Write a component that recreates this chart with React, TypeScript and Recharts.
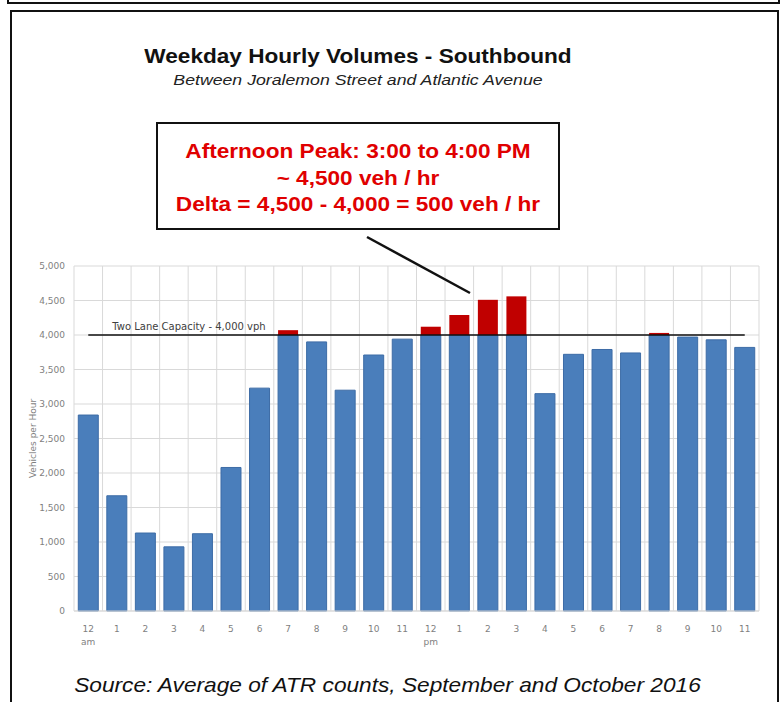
import React from "react";
import {
  BarChart, Bar, XAxis, YAxis, CartesianGrid, ReferenceLine,
} from "recharts";

const HOURS = [
  "12a", "1a", "2a", "3a", "4a", "5a", "6a", "7a", "8a", "9a", "10a", "11a",
  "12p", "1p", "2p", "3p", "4p", "5p", "6p", "7p", "8p", "9p", "10p", "11p",
];
const HOUR_LABELS = [
  "12", "1", "2", "3", "4", "5", "6", "7", "8", "9", "10", "11",
  "12", "1", "2", "3", "4", "5", "6", "7", "8", "9", "10", "11",
];
const PERIOD_LABELS: Record<string, string> = { "12a": "am", "12p": "pm" };

// vehicles per hour
const VOLUMES = [
  2840, 1670, 1130, 930, 1120, 2080, 3230, 4070, 3900, 3200, 3710, 3940,
  4120, 4290, 4510, 4560, 3150, 3720, 3790, 3740, 4030, 3970, 3930, 3820,
];
const CAPACITY = 4000;
const Y_TICKS = [0, 500, 1000, 1500, 2000, 2500, 3000, 3500, 4000, 4500, 5000];

const data = HOURS.map((hour, i) => ({
  hour,
  base: Math.min(VOLUMES[i], CAPACITY),
  over: Math.max(VOLUMES[i] - CAPACITY, 0),
}));

const AXIS_FONT = "'DejaVu Sans', sans-serif";
const ARIAL = "'Liberation Sans', Arial, sans-serif";

// the scanned page is a little stretched sideways
const wide = (s: number) => ({ transform: `scaleX(${s})`, transformOrigin: "center" });

function HourTick({ x, y, payload }: any) {
  const i = HOURS.indexOf(payload.value);
  const period = PERIOD_LABELS[payload.value];
  return (
    <g>
      <text x={x} y={y + 13} textAnchor="middle" fill="#7f7f7f" fontSize={9} fontFamily={AXIS_FONT}>
        {HOUR_LABELS[i]}
      </text>
      {period && (
        <text x={x} y={y + 26} textAnchor="middle" fill="#7f7f7f" fontSize={9} fontFamily={AXIS_FONT}>
          {period}
        </text>
      )}
    </g>
  );
}

export default function App() {
  return (
    <div style={{ position: "absolute", left: 0, top: 0, width: 783, height: 702, overflow: "hidden", background: "#fff" }}>
      {/* frames */}
      <div style={{ position: "absolute", left: 7, top: -20, width: 769, height: 20, border: "2px solid #111" }} />
      <div style={{ position: "absolute", left: 10, top: 10, width: 765, height: 720, border: "2px solid #111" }} />

      <div style={{ position: "absolute", left: 0, top: 45, width: 716, textAlign: "center", fontFamily: ARIAL, fontWeight: "bold", fontSize: 20, color: "#111", ...wide(1.13) }}>
        Weekday Hourly Volumes - Southbound
      </div>
      <div style={{ position: "absolute", left: 0, top: 71, width: 716, textAlign: "center", fontFamily: ARIAL, fontStyle: "italic", fontSize: 15, color: "#222", ...wide(1.18) }}>
        Between Joralemon Street and Atlantic Avenue
      </div>

      <div style={{
        position: "absolute", left: 156, top: 122, width: 400, height: 104,
        border: "2px solid #111", background: "#fff", boxSizing: "content-box",
      }} />
      <div style={{
        position: "absolute", left: 156, top: 138, width: 404, textAlign: "center",
        fontFamily: ARIAL, fontWeight: "bold", fontSize: 20, color: "#e00000", lineHeight: "26.5px",
        ...wide(1.13),
      }}>
        <div>Afternoon Peak: 3:00 to 4:00 PM</div>
        <div>~ 4,500 veh / hr</div>
        <div>Delta = 4,500 - 4,000 = 500 veh / hr</div>
      </div>

      <div style={{ position: "absolute", left: 0, top: 250 }}>
        <BarChart
          width={783}
          height={420}
          data={data}
          margin={{ top: 16, right: 24, bottom: 19, left: 20 }}
          barCategoryGap="15%"
        >
          <CartesianGrid
            stroke="#d9d9d9"
            verticalCoordinatesGenerator={({ offset }: any) =>
              HOURS.map((_, i) => offset.left + (i * offset.width) / HOURS.length).concat(offset.left + offset.width)
            }
          />
          <XAxis
            dataKey="hour"
            tick={<HourTick />}
            tickLine={false}
            axisLine={{ stroke: "#d9d9d9" }}
            height={40}
            interval={0}
          />
          <YAxis
            width={54}
            domain={[0, 5000]}
            ticks={Y_TICKS}
            tickFormatter={(v: number) => v.toLocaleString("en-US")}
            tick={{ fontSize: 9, fill: "#7f7f7f", fontFamily: AXIS_FONT }}
            tickLine={false}
            axisLine={false}
            tickSize={6}
            tickMargin={3}
            label={{
              content: ({ viewBox }: any) => {
                const cx = viewBox.x + 13;
                const cy = viewBox.y + viewBox.height / 2;
                return (
                  <text x={cx} y={cy} textAnchor="middle" dominantBaseline="central" transform={`rotate(-90, ${cx}, ${cy})`}
                    fill="#7f7f7f" fontSize={9} fontFamily={AXIS_FONT}>
                    Vehicles per Hour
                  </text>
                );
              },
            }}
          />
          <Bar dataKey="base" stackId="v" fill="#4a7ebb" stroke="#3d6ca6" strokeWidth={1} isAnimationActive={false} />
          <Bar dataKey="over" stackId="v" fill="#c00000" isAnimationActive={false} />
          <ReferenceLine
            segment={[{ x: HOURS[0], y: CAPACITY }, { x: HOURS[HOURS.length - 1], y: CAPACITY }]}
            stroke="#111"
            strokeWidth={1.5}
            label={{
              content: ({ viewBox }: any) => (
                <text x={viewBox.x + 24} y={viewBox.y - 5} fill="#404040" fontSize={10} fontFamily={AXIS_FONT}>
                  Two Lane Capacity - 4,000 vph
                </text>
              ),
            }}
          />
        </BarChart>
      </div>

      <svg style={{ position: "absolute", left: 0, top: 0 }} width={783} height={702} pointerEvents="none">
        <line x1={367} y1={237} x2={470} y2={293} stroke="#111" strokeWidth={2.5} />
      </svg>

      <div style={{ position: "absolute", left: 0, top: 673, width: 775, textAlign: "center", fontFamily: ARIAL, fontStyle: "italic", fontSize: 21, color: "#111", ...wide(1.08) }}>
        Source: Average of ATR counts, September and October 2016
      </div>
    </div>
  );
}
